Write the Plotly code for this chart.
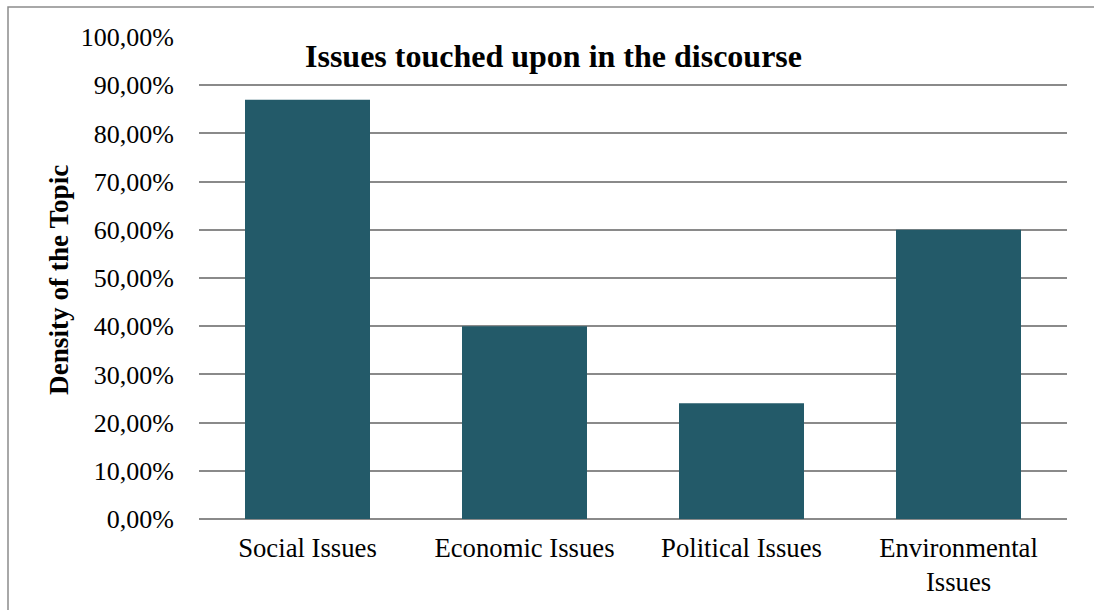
import plotly.graph_objects as go

categories = ["Social Issues", "Economic Issues", "Political Issues", "Environmental<br>Issues"]
density = [0.87, 0.40, 0.24, 0.60]
tick_vals = [0.0, 0.1, 0.2, 0.3, 0.4, 0.5, 0.6, 0.7, 0.8, 0.9, 1.0]

W, H = 1094, 610
L, R, T, B = 199, 27, 37, 91
pw, ph = W - L - R, H - T - B

def px_x(x):
    return (x - L) / pw

def px_y(y):
    return (H - B - y) / ph

FONT = "Liberation Serif"
GRID = "#8a8a8a"

fig = go.Figure()
fig.add_trace(go.Bar(x=categories, y=density, marker=dict(color="#235a69", line=dict(width=0)),
                     hoverinfo="x+y"))

fig.update_layout(
    width=W, height=H,
    margin=dict(l=L, r=R, t=T, b=B, autoexpand=False),
    paper_bgcolor="white", plot_bgcolor="white",
    separators=",.",
    bargap=0.424,
    showlegend=False,
    font=dict(family=FONT, color="black", size=26),
    xaxis=dict(showgrid=False, showline=False, ticks="", tickfont=dict(size=26.7, family=FONT),
               ticklabelstandoff=10, zeroline=False),
    yaxis=dict(range=[0, 1], tickvals=tick_vals, tickformat=".2%", showgrid=True,
               gridcolor=GRID, gridwidth=1.5, zeroline=True, zerolinecolor=GRID,
               zerolinewidth=1.5, showline=False, ticks="", ticklabelstandoff=24,
               tickfont=dict(size=26, family=FONT)),
    annotations=[
        dict(text="<b>Issues touched upon in the discourse</b>", xref="paper", yref="paper",
             x=px_x(553.5), y=px_y(56), xanchor="center", yanchor="middle",
             showarrow=False, font=dict(size=32, family=FONT, color="black")),
        dict(text="<b>Density of the Topic</b>", xref="paper", yref="paper",
             x=px_x(59), y=px_y(280), xanchor="center", yanchor="middle", textangle=-90,
             showarrow=False, font=dict(size=27.2, family=FONT, color="black")),
    ],
    shapes=[
        dict(type="rect", xref="paper", yref="paper", x0=px_x(8), x1=px_x(1110),
             y0=px_y(630), y1=px_y(7), line=dict(color="#8c8c8c", width=1.5),
             fillcolor="rgba(0,0,0,0)", layer="below"),
    ],
)

fig.write_html("out.html")
